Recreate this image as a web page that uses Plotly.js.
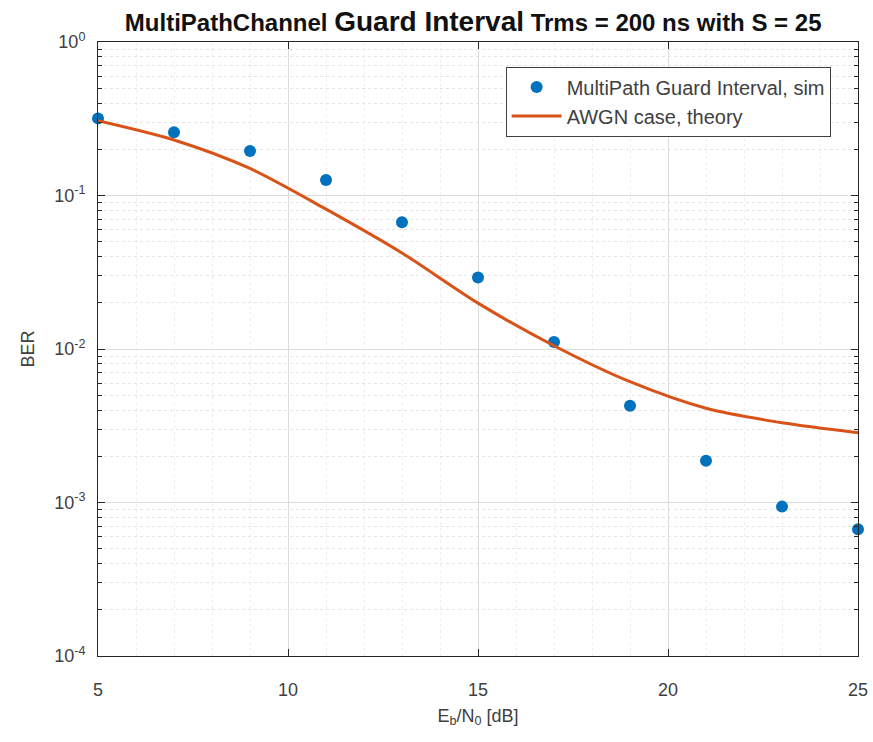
<!DOCTYPE html>
<html>
<head>
<meta charset="utf-8">
<script src="https://cdn.plot.ly/plotly-3.0.1.min.js"></script>
<style>
  html, body { margin: 0; padding: 0; background: #ffffff; }
  #chart { width: 873px; height: 742px; }
</style>
</head>
<body>
<div id="chart"></div>
<script>
// Eb/N0 points (dB)
const ebn0 = [5, 7, 9, 11, 13, 15, 17, 19, 21, 23, 25];

// Simulated BER, multipath channel with guard interval
const berSim = [0.318, 0.258, 0.195, 0.126, 0.0669, 0.0292, 0.0111, 0.00427, 0.00187, 0.00094, 0.00067];

// Theoretical BER, AWGN case
const berTheory = [0.307, 0.230, 0.150, 0.0815, 0.0422, 0.0199, 0.0105, 0.00612, 0.00411, 0.00331, 0.00285];

// Axis tick labels
const yTickVals = [1e-4, 1e-3, 1e-2, 1e-1, 1];
const yTickText = ['10<sup>-4</sup>', '10<sup>-3</sup>', '10<sup>-2</sup>', '10<sup>-1</sup>', '10<sup>0</sup>'];
const xTickVals = [5, 10, 15, 20, 25];

const FONT = 'Liberation Sans, Arial, Helvetica, sans-serif';
const AXIS_COLOR = '#262626';
const TEXT_COLOR = '#404040';

const traces = [
  {
    x: ebn0,
    y: berSim,
    name: 'MultiPath Guard Interval, sim',
    type: 'scatter',
    mode: 'markers',
    marker: { color: '#0072BD', size: 12 },
    cliponaxis: false
  },
  {
    x: ebn0,
    y: berTheory,
    name: 'AWGN case, theory',
    type: 'scatter',
    mode: 'lines',
    line: { color: '#D95319', width: 3, shape: 'spline', smoothing: 0.8 }
  }
];

const axisCommon = {
  showline: true,
  linecolor: AXIS_COLOR,
  linewidth: 1,
  mirror: 'ticks',
  ticks: 'inside',
  ticklen: 7,
  tickcolor: AXIS_COLOR,
  showgrid: true,
  gridcolor: '#dcdcdc',
  gridwidth: 1,
  zeroline: false,
  tickfont: { family: FONT, size: 18, color: TEXT_COLOR }
};

const layout = {
  width: 873,
  height: 742,
  paper_bgcolor: '#ffffff',
  plot_bgcolor: '#ffffff',
  margin: { l: 98, r: 15, t: 42, b: 86 },
  showlegend: true,
  title: {
    text: '<span style="font-size:24px">MultiPathChannel</span> ' +
          '<span style="font-size:28px">Guard Interval</span> ' +
          '<span style="font-size:24px">Trms = 200 ns with S = 25</span>',
    font: { family: FONT, size: 24, color: '#111111', weight: 'bold' },
    x: 0.542,
    xanchor: 'center',
    y: 0.97,
    yanchor: 'middle'
  },
  xaxis: Object.assign({}, axisCommon, {
    range: [5, 25],
    tickmode: 'array',
    tickvals: xTickVals,
    ticktext: xTickVals.map(String),
    ticklabelstandoff: 17,
    minor: { dtick: 1, showgrid: true, gridcolor: '#efefef', griddash: 'dot', ticks: '' },
    title: {
      text: 'E<sub>b</sub>/N<sub>0</sub> [dB]',
      font: { family: FONT, size: 18, color: TEXT_COLOR },
      standoff: 10
    }
  }),
  yaxis: Object.assign({}, axisCommon, {
    type: 'log',
    range: [-4, 0],
    tickmode: 'array',
    tickvals: yTickVals,
    ticktext: yTickText,
    ticklabelstandoff: 8,
    minor: { dtick: 'D1', showgrid: true, gridcolor: '#e4e4e4', griddash: 'dot', ticks: 'inside', ticklen: 4, tickcolor: AXIS_COLOR },
    title: {
      text: 'BER',
      font: { family: FONT, size: 18, color: TEXT_COLOR },
      standoff: 14
    }
  }),
  legend: {
    x: 0.964,
    xanchor: 'right',
    y: 0.96,
    yanchor: 'top',
    bgcolor: '#ffffff',
    bordercolor: '#404040',
    borderwidth: 1,
    itemwidth: 50,
    font: { family: FONT, size: 20, color: TEXT_COLOR },
    tracegroupgap: 0
  }
};

Plotly.newPlot('chart', traces, layout, { displayModeBar: false, staticPlot: true });
</script>
</body>
</html>
